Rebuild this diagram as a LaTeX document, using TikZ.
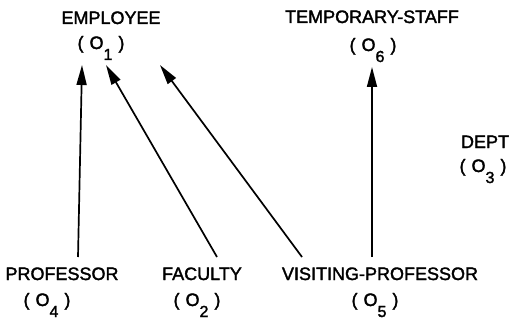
\documentclass[tikz,border=0pt]{standalone}
\usepackage{fontspec}
\setmainfont{Liberation Sans}[BoldFont=Liberation Sans, BoldFeatures={FakeBold=1.8}]
\usetikzlibrary{arrows.meta}
% object index set low, as on a line printer
\newcommand\lowidx[1]{\raisebox{-11pt}{\fontsize{16}{16}\selectfont\bfseries #1}}
\newcommand\objid[1]{(\hspace{6pt}O\lowidx{#1}\hspace{6pt})}
\begin{document}
\begin{tikzpicture}[x=1pt,y=-1pt,
  lbl/.style={anchor=base,inner sep=0pt,font=\fontsize{18}{18}\selectfont\bfseries},
  isa/.style={line width=1.7pt,-{Triangle[length=20pt,width=10pt]}}]
\useasboundingbox (0,0) rectangle (510,326);

% classes and their object identifiers
\node[lbl] (employee)  at (111,24)  {EMPLOYEE};
\node[lbl] (o1)        at (101,49)  {\objid{1}};
\node[lbl] (tempstaff) at (372,23)  {TEMPORARY-STAFF};
\node[lbl] (o6)        at (373,51)  {\objid{6}};
\node[lbl] (dept)      at (485,148) {DEPT};
\node[lbl] (o3)        at (483,172) {\objid{3}};
\node[lbl] (professor) at (62,280)  {PROFESSOR};
\node[lbl] (o4)        at (47,306)  {\objid{4}};
\node[lbl] (faculty)   at (202,280) {FACULTY};
\node[lbl] (o2)        at (197,306) {\objid{2}};
\node[lbl] (visiting)  at (380,280) {VISITING-PROFESSOR};
\node[lbl] (o5)        at (375,306) {\objid{5}};

% ends of the is-a links
\coordinate (prof-up)  at (78,257);
\coordinate (fac-up)   at (217,257);
\coordinate (vis-up1)  at (302,257);
\coordinate (vis-up2)  at (372,257);
\coordinate (emp-in1)  at (82,65);
\coordinate (emp-in2)  at (106,65);
\coordinate (emp-in3)  at (160,65);
\coordinate (temp-in)  at (372,67);

\draw[isa] (prof-up) -- (emp-in1);
\draw[isa] (fac-up)  -- (emp-in2);
\draw[isa] (vis-up1) -- (emp-in3);
\draw[isa] (vis-up2) -- (temp-in);
\end{tikzpicture}
\end{document}
